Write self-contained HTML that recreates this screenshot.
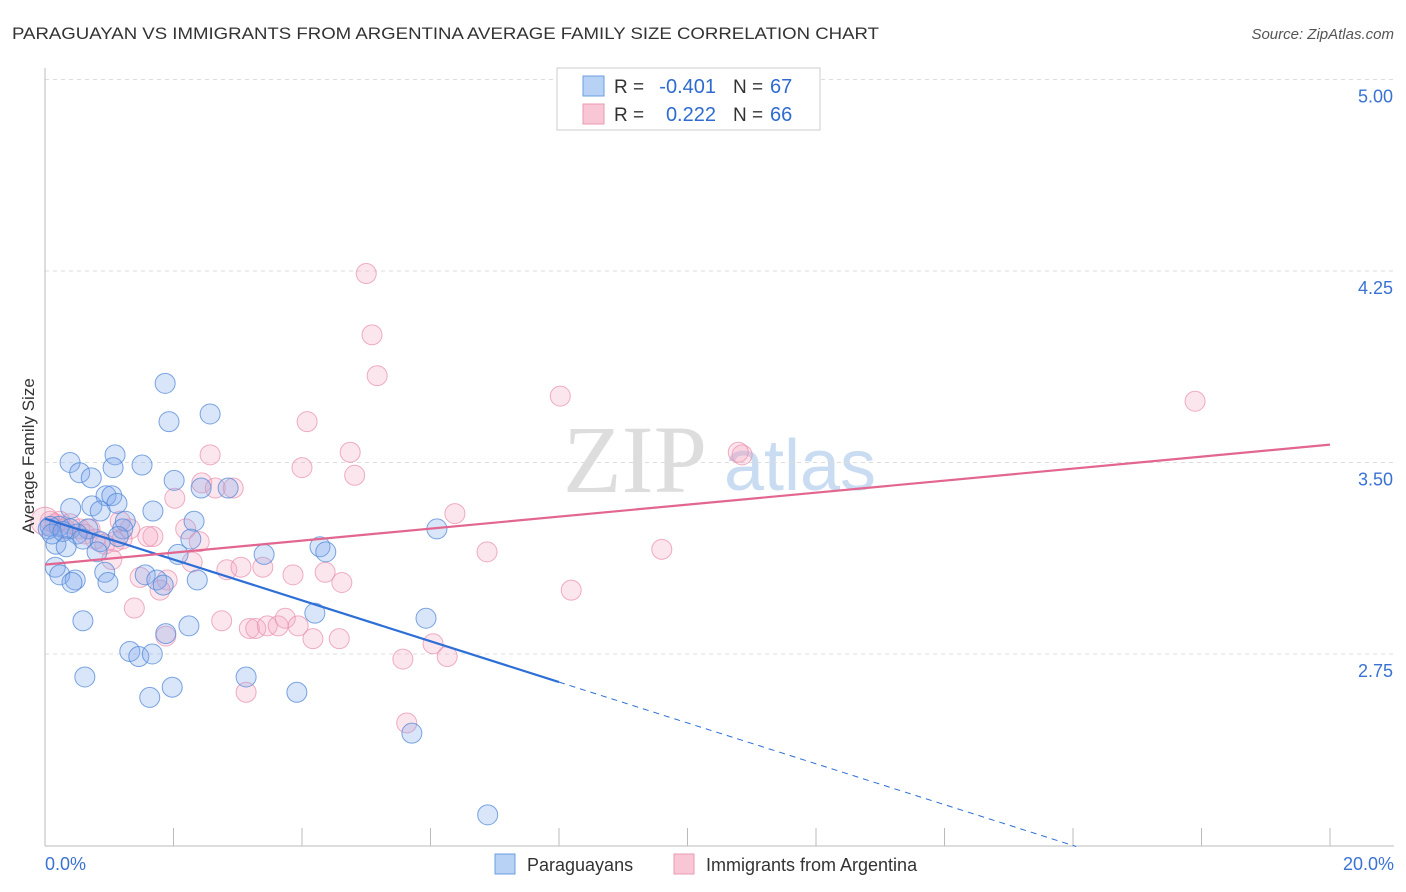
<!DOCTYPE html>
<html><head><meta charset="utf-8"><style>
body{margin:0;background:#fff;font-family:"Liberation Sans",sans-serif;}
svg{display:block}
</style></head><body>
<svg id="chart" width="1406" height="892">
<text x="12" y="39" font-size="17" fill="#333" textLength="867" lengthAdjust="spacingAndGlyphs">PARAGUAYAN VS IMMIGRANTS FROM ARGENTINA AVERAGE FAMILY SIZE CORRELATION CHART</text>
<text x="1394" y="39" font-size="15" fill="#555" font-style="italic" text-anchor="end">Source: ZipAtlas.com</text>
<g>
<text x="635" y="492" font-size="96" fill="#ddd" font-family="Liberation Serif,serif" text-anchor="middle">ZIP</text>
<text x="800" y="490" font-size="72" fill="#c9dcf2" text-anchor="middle">atlas</text>
</g>
<g id="grid"></g>
<g id="axes"></g>
<g id="marks"></g>
<text transform="translate(34,456) rotate(-90)" font-size="17" fill="#333" text-anchor="middle">Average Family Size</text>
<g>
<rect x="557" y="68" width="263" height="62" fill="#fff" stroke="#ccc"/>
<rect x="583" y="76" width="21" height="20" fill="#b8d2f5" stroke="#6d9de0"/>
<rect x="583" y="104" width="21" height="20" fill="#f9c6d5" stroke="#e99ab2"/>
<text x="614" y="93" font-size="19" fill="#333">R =</text>
<text x="716" y="93" font-size="20" fill="#2f6bd0" text-anchor="end">-0.401</text>
<text x="733" y="93" font-size="19" fill="#333">N =</text>
<text x="770" y="93" font-size="20" fill="#2f6bd0">67</text>
<text x="614" y="121" font-size="19" fill="#333">R =</text>
<text x="716" y="121" font-size="20" fill="#2f6bd0" text-anchor="end">0.222</text>
<text x="733" y="121" font-size="19" fill="#333">N =</text>
<text x="770" y="121" font-size="20" fill="#2f6bd0">66</text>
</g>
<g>
<rect x="495" y="854" width="20" height="20" fill="#b8d2f5" stroke="#6d9de0"/>
<text x="527" y="871" font-size="18" fill="#333">Paraguayans</text>
<rect x="674" y="854" width="20" height="20" fill="#f9c6d5" stroke="#e99ab2"/>
<text x="706" y="871" font-size="18" fill="#333">Immigrants from Argentina</text>
</g>
</svg>
<script>
const blueX=[1.87,1.93,2.57,0.39,0.54,0.72,1.09,1.06,1.51,2.01,2.43,2.85,0.95,1.04,0.73,1.12,0.40,0.86,1.68,1.25,2.32,0.67,1.21,0.22,0.08,0.39,0.50,0.17,0.86,0.81,2.07,2.27,3.41,4.28,4.37,6.10,0.16,0.23,0.47,0.42,0.93,0.98,1.56,1.74,1.84,2.37,0.59,1.88,2.24,4.20,5.93,1.32,1.46,1.67,0.62,1.98,1.63,3.13,3.92,5.71,6.89,0.05,0.11,0.28,0.59,1.14,0.33];
const blueY=[3.81,3.66,3.69,3.50,3.46,3.44,3.53,3.48,3.49,3.43,3.40,3.40,3.37,3.37,3.33,3.34,3.32,3.31,3.31,3.27,3.27,3.24,3.24,3.25,3.25,3.24,3.22,3.18,3.19,3.15,3.14,3.20,3.14,3.17,3.15,3.24,3.09,3.06,3.04,3.03,3.07,3.03,3.06,3.04,3.02,3.04,2.88,2.83,2.86,2.91,2.89,2.76,2.74,2.75,2.66,2.62,2.58,2.66,2.60,2.44,2.12,3.24,3.22,3.23,3.20,3.21,3.17];
const pinkX=[5.00,5.09,5.17,8.02,17.90,4.08,2.57,4.75,10.85,10.79,4.00,4.82,2.44,2.65,2.93,2.02,6.38,2.19,2.40,1.32,1.68,1.60,1.20,1.09,0.93,0.54,0.23,0.16,0.39,0.70,6.88,9.60,1.04,2.29,1.90,1.48,1.79,2.83,3.05,3.39,3.86,4.36,4.62,1.39,2.75,3.18,3.28,3.46,3.63,3.74,3.94,4.17,4.58,6.04,6.26,5.57,1.88,3.13,5.63,8.19,0.62,0.78,0.08,0.31,1.17,0.0];
const pinkY=[4.24,4.00,3.84,3.76,3.74,3.66,3.53,3.54,3.53,3.54,3.48,3.45,3.42,3.40,3.40,3.36,3.30,3.24,3.19,3.24,3.21,3.21,3.20,3.19,3.18,3.24,3.27,3.26,3.26,3.24,3.15,3.16,3.12,3.11,3.04,3.05,3.00,3.08,3.09,3.09,3.06,3.07,3.03,2.93,2.88,2.85,2.85,2.86,2.86,2.89,2.86,2.81,2.81,2.79,2.74,2.73,2.82,2.60,2.48,3.00,3.22,3.20,3.27,3.24,3.27,3.27];
const yTicks=[5.00,4.25,3.50,2.75];
const xTickVals=[0,2,4,6,8,10,12,14,16,18,20];
const blueTrend=[3.28,-0.08];
const pinkTrend=[3.10,0.0235];
const blueSolidEnd=8, blueDashEnd=16.05;

const X=v=>45+v*64.25, Y=v=>845.5-(v-2)*255.33;
const NS='http://www.w3.org/2000/svg';
function mk(tag,attrs,parent){const e=document.createElementNS(NS,tag);for(const k in attrs)e.setAttribute(k,attrs[k]);parent.appendChild(e);return e;}
const grid=document.getElementById('grid'),axes=document.getElementById('axes'),marks=document.getElementById('marks');
yTicks.forEach(t=>{
 const l=mk('line',{x1:45,x2:1394,y1:Y(t),y2:Y(t),stroke:'#ddd','stroke-dasharray':'4,4'},grid);
 
 
 const tx=mk('text',{x:1393,y:Y(t)+23,'font-size':18,fill:'#3a72d4','text-anchor':'end'},axes);
 tx.textContent=t.toFixed(2);
 
 
});
const ax=mk('line',{x1:45,x2:45,y1:68,y2:846,stroke:'#bbb'},axes);


const bx=mk('line',{x1:45,x2:1394,y1:846,y2:846,stroke:'#bbb'},axes);


xTickVals.forEach(t=>{
 const l=mk('line',{x1:X(t),x2:X(t),y1:828,y2:846,stroke:'#bbb'},axes);
 
 
});
[[0,'start',45],[20,'end',1394]].forEach(([v,a,px])=>{
 const tx=mk('text',{x:px,y:870,'font-size':18,fill:'#3a72d4','text-anchor':a},axes);
 tx.textContent=v.toFixed(1)+'%';
 
 
});
pinkX.forEach((x,i)=>{
 const c=mk('circle',{cx:X(x),cy:Y(pinkY[i]),r:(x===0?14:10),fill:'rgba(245,165,195,0.28)',stroke:'rgba(232,140,170,0.7)','stroke-width':1},marks);
 
 
});
blueX.forEach((x,i)=>{
 const c=mk('circle',{cx:X(x),cy:Y(blueY[i]),r:10,fill:'rgba(130,170,235,0.3)',stroke:'rgba(80,135,215,0.75)','stroke-width':1},marks);
 
 
});
const bf=v=>blueTrend[0]+blueTrend[1]*v, pf=v=>pinkTrend[0]+pinkTrend[1]*v;
const bt=mk('line',{x1:X(0),y1:Y(bf(0)),x2:X(blueSolidEnd),y2:Y(bf(blueSolidEnd)),stroke:'#2d6fd6','stroke-width':2.2},marks);


const bd=mk('line',{x1:X(blueSolidEnd),y1:Y(bf(blueSolidEnd)),x2:X(blueDashEnd),y2:Y(bf(blueDashEnd)),stroke:'#2d6fd6','stroke-width':1,'stroke-dasharray':'6,5'},marks);


const pt=mk('line',{x1:X(0),y1:Y(pf(0)),x2:X(20),y2:Y(pf(20)),stroke:'#e2668f','stroke-width':2.2},marks);


</script>
</body></html>
